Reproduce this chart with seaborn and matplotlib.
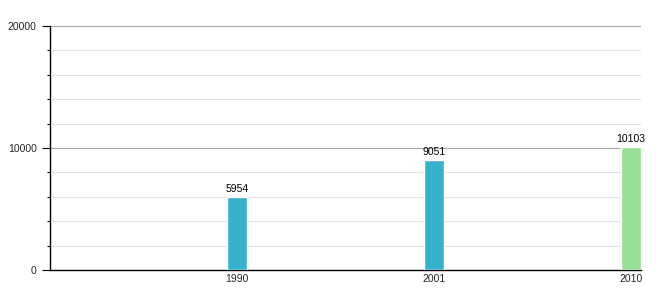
import matplotlib
matplotlib.use("Agg")
import matplotlib.pyplot as plt
import seaborn as sns
import pandas as pd
from matplotlib.ticker import MultipleLocator

years = ["1990", "2001", "2010"]
values = [5954, 9051, 10103]
colors = ["#36b1cb", "#36b1cb", "#98e095"]

sns.set_style("white")
plt.rcParams["font.family"] = ["Liberation Sans", "DejaVu Sans"]

df = pd.DataFrame({"year": years, "value": values})

fig = plt.figure(figsize=(6.6, 3.0), dpi=100)
ax = fig.add_axes([50 / 660, 30 / 300, 591 / 660, 244 / 300])

sns.barplot(data=df, x="year", y="value", hue="year", palette=colors,
            width=0.1, legend=False, ax=ax, saturation=1, zorder=3)

ax.set_xlim(-0.95, 2.05)
ax.set_ylim(0, 20000)
ax.yaxis.set_major_locator(MultipleLocator(10000))
ax.yaxis.set_minor_locator(MultipleLocator(2000))
ax.grid(axis="y", which="minor", color="#e2e2e2", linewidth=0.8, zorder=0)
ax.grid(axis="y", which="major", color="#a8a8a8", linewidth=0.8, zorder=1)
ax.grid(axis="x", visible=False)

for s in ["top", "right"]:
    ax.spines[s].set_visible(False)
for s in ["left", "bottom"]:
    ax.spines[s].set_color("black")
    ax.spines[s].set_linewidth(1.0)

ax.tick_params(axis="y", which="major", length=6, width=0.8, color="black",
               labelsize=7.5, pad=3.5, left=True)
ax.tick_params(axis="y", which="minor", length=2, width=0.8, color="black",
               left=True)
ax.tick_params(axis="x", length=0, labelsize=7.5, pad=3)
ax.set_xlabel("")
ax.set_ylabel("")

for i, v in enumerate(values):
    ax.text(i, v + 250, str(v), ha="center", va="bottom", fontsize=7.5,
            color="black", zorder=4)

fig.savefig("out.png", dpi=100)
